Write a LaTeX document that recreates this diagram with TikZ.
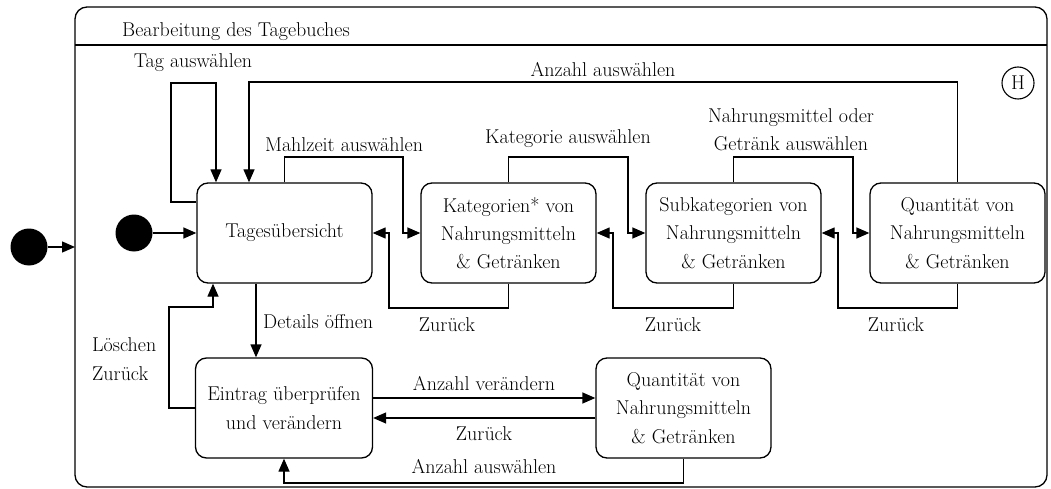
\documentclass[tikz,border=0pt]{standalone}
\usetikzlibrary{arrows.meta}
\begin{document}
\begin{tikzpicture}[x=1pt,y=-1pt,
  every node/.style={font=\fontsize{20}{28.3}\selectfont},
  state/.style={draw, line width=1.3pt, rounded corners=11pt, minimum width=175pt, minimum height=100pt, align=center, inner sep=0pt},
  dot/.style={circle, fill=black, minimum size=37pt, inner sep=0pt},
  arr/.style={line width=1.3pt, -{Triangle[length=13pt,width=11pt]}},
  ln/.style={line width=1.3pt},
  lbl/.style={inner sep=0pt}]
\useasboundingbox (0,0) rectangle (1051,489);
% container
\draw[ln, rounded corners=12pt] (75,7) rectangle (1047,487);
\draw[ln] (75,45) -- (1047,45);
\node[lbl, anchor=west] (title) at (122,32) {Bearbeitung des Tagebuches};
\node[draw, circle, line width=1.1pt, minimum size=32pt, inner sep=0pt] (hist) at (1018,83) {H};
% states
\node[dot] (outerinit) at (29,247) {};
\node[dot] (init) at (134,233) {};
\node[state] (tages) at (284.5,233) {Tagesübersicht};
\node[state] (kat) at (508.5,233) {Kategorien* von\\Nahrungsmitteln\\\& Getränken};
\node[state] (sub) at (733.5,233) {Subkategorien von\\Nahrungsmitteln\\\& Getränken};
\node[state] (quant) at (957.5,233) {Quantität von\\Nahrungsmitteln\\\& Getränken};
\node[state, minimum width=177pt] (eintrag) at (284,408) {Eintrag überprüfen\\und verändern};
\node[state] (quantb) at (683.5,408) {Quantität von\\Nahrungsmitteln\\\& Getränken};
\coordinate (boxleft) at (75,247);
% connectors
\draw[arr] (outerinit) -- (boxleft);
\draw[arr] (init) -- (tages.west);
\draw[arr] ([yshift=31pt]tages.west) -| (171,83) -| ([xshift=-68.5pt]tages.north);
\draw[arr] (quant.north) |- (249,82) -- ([xshift=-35.5pt]tages.north);
\draw[arr] (tages.north) |- (403,157) |- (kat.west);
\draw[arr] (kat.north) |- (628,157) |- (sub.west);
\draw[arr] (sub.north) |- (853,157) |- (quant.west);
\draw[arr] (kat.south) |- (389,308) |- (tages.east);
\draw[arr] (sub.south) |- (613,308) |- (kat.east);
\draw[arr] (quant.south) |- (838,308) |- (sub.east);
\draw[arr] ([xshift=-28.5pt]tages.south) -- ([xshift=-28pt]eintrag.north);
\draw[arr] (eintrag.west) -| (169,307) -| ([xshift=-71.5pt]tages.south);
\draw[arr] ([yshift=10pt]eintrag.east) -- ([yshift=10pt]quantb.west);
\draw[arr] ([yshift=-10pt]quantb.west) -- ([yshift=-10pt]eintrag.east);
\draw[arr] (quantb.south) |- (284,483) -- (eintrag.south);
% labels
\node[lbl] (l1) at (193,63) {Tag auswählen};
\node[lbl] (l2) at (603,70) {Anzahl auswählen};
\node[lbl] (l3) at (344,145) {Mahlzeit auswählen};
\node[lbl] (l4) at (568,139) {Kategorie auswählen};
\node[lbl, align=center] (l5) at (791,130) {Nahrungsmittel oder\\Getränk auswählen};
\node[lbl] (l6) at (447,325) {Zurück};
\node[lbl] (l7) at (673,325) {Zurück};
\node[lbl] (l8) at (896,325) {Zurück};
\node[lbl, anchor=west] (l9) at (263,322) {Details öffnen};
\node[lbl, anchor=west, align=left] (l10) at (92,359) {Löschen\\Zurück};
\node[lbl] (l11) at (484,384) {Anzahl verändern};
\node[lbl] (l12) at (484,434) {Zurück};
\node[lbl] (l13) at (484,467) {Anzahl auswählen};
\end{tikzpicture}
\end{document}
